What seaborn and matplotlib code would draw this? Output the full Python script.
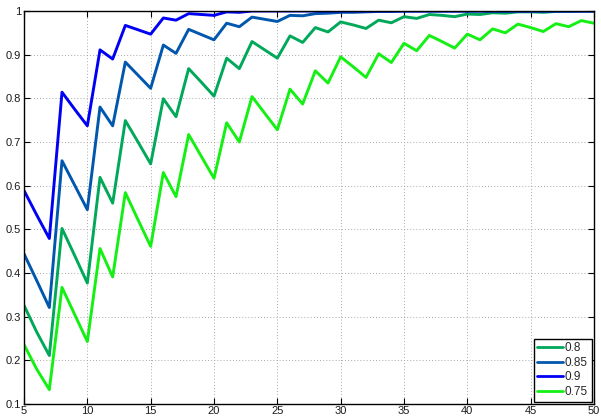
import numpy as np
import pandas as pd
import matplotlib
matplotlib.use("Agg")
import matplotlib.pyplot as plt
import seaborn as sns
from matplotlib.ticker import FuncFormatter, MultipleLocator

x = list(range(5, 51))

p09 = [0.589, 0.533, 0.479, 0.814, 0.775, 0.737, 0.911, 0.890, 0.967, 0.957,
       0.947, 0.984, 0.979, 0.994, 0.992, 0.990, 0.998, 0.997] + [1.0] * 28

p085 = [0.444, 0.383, 0.321, 0.657, 0.601, 0.545, 0.780, 0.737, 0.883, 0.853,
        0.823, 0.922, 0.903, 0.958, 0.946, 0.934, 0.972, 0.964, 0.986, 0.981,
        0.976, 0.990, 0.989, 0.994, 0.995, 0.997, 0.997, 0.998, 0.999, 0.999,
        1.0] + [1.0] * 15

p08 = [0.326, 0.265, 0.211, 0.502, 0.440, 0.377, 0.619, 0.560, 0.749, 0.700,
       0.650, 0.799, 0.758, 0.868, 0.837, 0.805, 0.892, 0.868, 0.930, 0.911,
       0.892, 0.943, 0.928, 0.962, 0.952, 0.975, 0.968, 0.960, 0.979, 0.973,
       0.987, 0.983, 0.992, 0.990, 0.987, 0.993, 0.992, 0.996, 0.995, 0.998,
       0.998, 0.997, 0.999, 0.999, 1.0, 1.0]

p075 = [0.236, 0.180, 0.133, 0.367, 0.305, 0.243, 0.456, 0.391, 0.584, 0.522,
        0.461, 0.630, 0.575, 0.717, 0.667, 0.617, 0.744, 0.700, 0.804, 0.766,
        0.728, 0.821, 0.787, 0.863, 0.835, 0.895, 0.872, 0.848, 0.902, 0.882,
        0.926, 0.909, 0.944, 0.930, 0.915, 0.947, 0.934, 0.959, 0.950, 0.970,
        0.962, 0.953, 0.971, 0.964, 0.978, 0.972]

labels = ["0.8", "0.85", "0.9", "0.75"]
series = [p08, p085, p09, p075]
colors = {"0.8": "#00a85a", "0.85": "#0057ad", "0.9": "#0000f5", "0.75": "#14f014"}

df = pd.concat([pd.DataFrame({"x": x, "y": s, "series": lab})
                for lab, s in zip(labels, series)], ignore_index=True)

sns.set_style("white")
plt.rcParams["font.family"] = ["Liberation Sans", "DejaVu Sans"]

fig = plt.figure(figsize=(6.01, 4.18), dpi=100)
ax = fig.add_axes([24 / 601, 1 - 404 / 418, 570 / 601, 393 / 418])

sns.lineplot(data=df, x="x", y="y", hue="series", hue_order=labels,
             palette=colors, linewidth=2.1, ax=ax, legend=True)

ax.set_xlim(5, 50)
ax.set_ylim(0.1, 1.0)
ax.xaxis.set_major_locator(MultipleLocator(5))
ax.yaxis.set_major_locator(MultipleLocator(0.1))
fmt = FuncFormatter(lambda v, p: ("%g" % round(v, 2)))
ax.xaxis.set_major_formatter(fmt)
ax.yaxis.set_major_formatter(fmt)
ax.set_xlabel("")
ax.set_ylabel("")
ax.grid(True, color="#a8a8a8", linestyle=(0, (1, 2.2)), linewidth=0.7)
ax.set_axisbelow(True)
for sp in ax.spines.values():
    sp.set_color("black")
    sp.set_linewidth(1.0)
    sp.set_visible(True)
ax.tick_params(axis="both", direction="in", length=4, width=0.8, color="black",
               labelsize=8, labelcolor="#1a1a1a", top=True, right=True,
               bottom=True, left=True)
ax.tick_params(axis="y", pad=2)
ax.tick_params(axis="x", pad=1.5)

leg = ax.legend(loc="lower right", fontsize=8.5, frameon=True, fancybox=False,
                edgecolor="black", framealpha=1, borderpad=0.3,
                labelspacing=0.22, handlelength=2.2, handletextpad=0.15,
                borderaxespad=0.2)
leg.get_frame().set_linewidth(1.0)
for line in leg.get_lines():
    line.set_linewidth(2.0)

fig.savefig("out.png", dpi=100)
